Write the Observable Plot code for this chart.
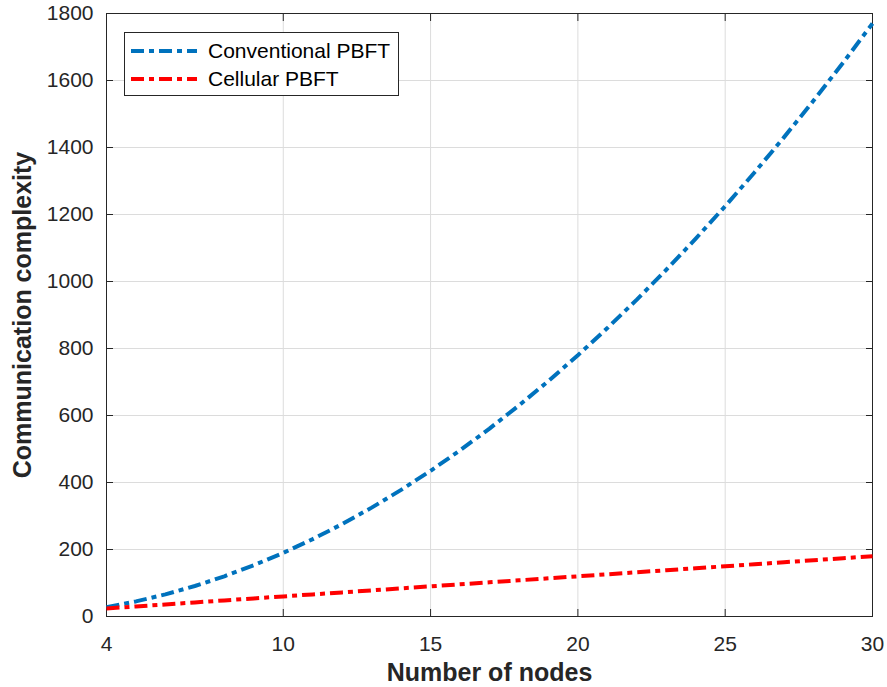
<!DOCTYPE html>
<html>
<head>
<meta charset="utf-8">
<script src="https://cdn.jsdelivr.net/npm/d3@7"></script>
<script src="https://cdn.jsdelivr.net/npm/@observablehq/plot@0.6"></script>
<style>
  html, body { margin: 0; padding: 0; background: #fff; }
  #wrap { position: relative; width: 887px; height: 687px; font-family: "Liberation Sans", Arial, sans-serif; }
  #legend { position: absolute; left: 124px; top: 32px; width: 273px; height: 62px; border: 1px solid #262626; background: #fff; }
  .row { position: absolute; left: 6px; height: 24px; display: flex; align-items: center; font-size: 21px; color: #000; white-space: nowrap; }
  .row svg { margin-right: 11px; }
</style>
</head>
<body>
<div id="wrap">
  <div id="chart"></div>
  <div id="legend"></div>
</div>
<script>
const nodes = [4,5,6,7,8,9,10,11,12,13,14,15,16,17,18,19,20,21,22,23,24,25,26,27,28,29,30];
const conventional = [28,45,66,91,120,153,190,231,276,325,378,435,496,561,630,703,780,861,946,1035,1128,1225,1326,1431,1540,1653,1770];
const cellular = [24,30,36,42,48,54,60,66,72,78,84,90,96,102,108,114,120,126,132,138,144,150,156,162,168,174,180];
const seriesNames = ["Conventional PBFT", "Cellular PBFT"];
const seriesColors = ["#0072BD", "#FF0000"];
const xTicks = [4,10,15,20,25,30];
const yTicks = [0,200,400,600,800,1000,1200,1400,1600,1800];

const rows = [];
nodes.forEach((n, i) => {
  rows.push({n, v: conventional[i], s: seriesNames[0]});
  rows.push({n, v: cellular[i], s: seriesNames[1]});
});

const dash = "13,5,5,5";
const axisColor = "#262626";
const fmt = d3.format("d");
const blank = () => "";

const chart = Plot.plot({
  width: 887,
  height: 687,
  marginLeft: 106,
  marginRight: 15,
  marginTop: 13,
  marginBottom: 71,
  style: {fontFamily: "Liberation Sans, Arial, sans-serif", fontSize: "21px", color: axisColor, background: "#fff"},
  x: {domain: [4, 30]},
  y: {domain: [0, 1800]},
  color: {domain: seriesNames, range: seriesColors},
  marks: [
    Plot.gridX(xTicks, {stroke: "#dcdcdc", strokeOpacity: 1, strokeWidth: 1}),
    Plot.gridY(yTicks, {stroke: "#dcdcdc", strokeOpacity: 1, strokeWidth: 1}),
    Plot.frame({stroke: axisColor, strokeWidth: 1}),
    // inward tick marks on all four sides
    Plot.axisX({ticks: xTicks, tickSize: 7, dy: -7, tickFormat: blank, label: null, stroke: axisColor, strokeOpacity: 1}),
    Plot.axisX({anchor: "top", ticks: xTicks, tickSize: 7, dy: 7, tickFormat: blank, label: null, stroke: axisColor, strokeOpacity: 1}),
    Plot.axisY({ticks: yTicks, tickSize: 7, dx: 7, tickFormat: blank, label: null, stroke: axisColor, strokeOpacity: 1}),
    Plot.axisY({anchor: "right", ticks: yTicks, tickSize: 7, dx: -7, tickFormat: blank, label: null, stroke: axisColor, strokeOpacity: 1}),
    // tick labels
    Plot.axisX({ticks: xTicks, tickSize: 0, tickPadding: 20, tickFormat: fmt, fontSize: 21, label: null, fill: axisColor}),
    Plot.axisY({ticks: yTicks, tickSize: 0, tickPadding: 13, tickFormat: fmt, fontSize: 21, label: null, fill: axisColor}),
    Plot.line(rows, {x: "n", y: "v", z: "s", stroke: "s", strokeWidth: 4, strokeDasharray: dash, strokeLinecap: "butt", curve: "linear"}),
    Plot.text(["Number of nodes"], {frameAnchor: "bottom", lineAnchor: "middle", dy: 56, fontSize: 25, fontWeight: "bold", fill: axisColor}),
    Plot.text(["Communication complexity"], {frameAnchor: "left", textAnchor: "middle", lineAnchor: "middle", dx: -84, rotate: -90, fontSize: 25, fontWeight: "bold", fill: axisColor})
  ]
});
document.getElementById("chart").appendChild(chart);

const legend = document.getElementById("legend");
seriesNames.forEach((name, i) => {
  const row = document.createElement("div");
  row.className = "row";
  row.style.top = (6 + i * 28) + "px";
  row.innerHTML = `<svg width="66" height="10"><line x1="0" y1="5" x2="66" y2="5" stroke="${seriesColors[i]}" stroke-width="4" stroke-dasharray="${dash}"/></svg><span>${name}</span>`;
  legend.appendChild(row);
});
</script>
</body>
</html>
